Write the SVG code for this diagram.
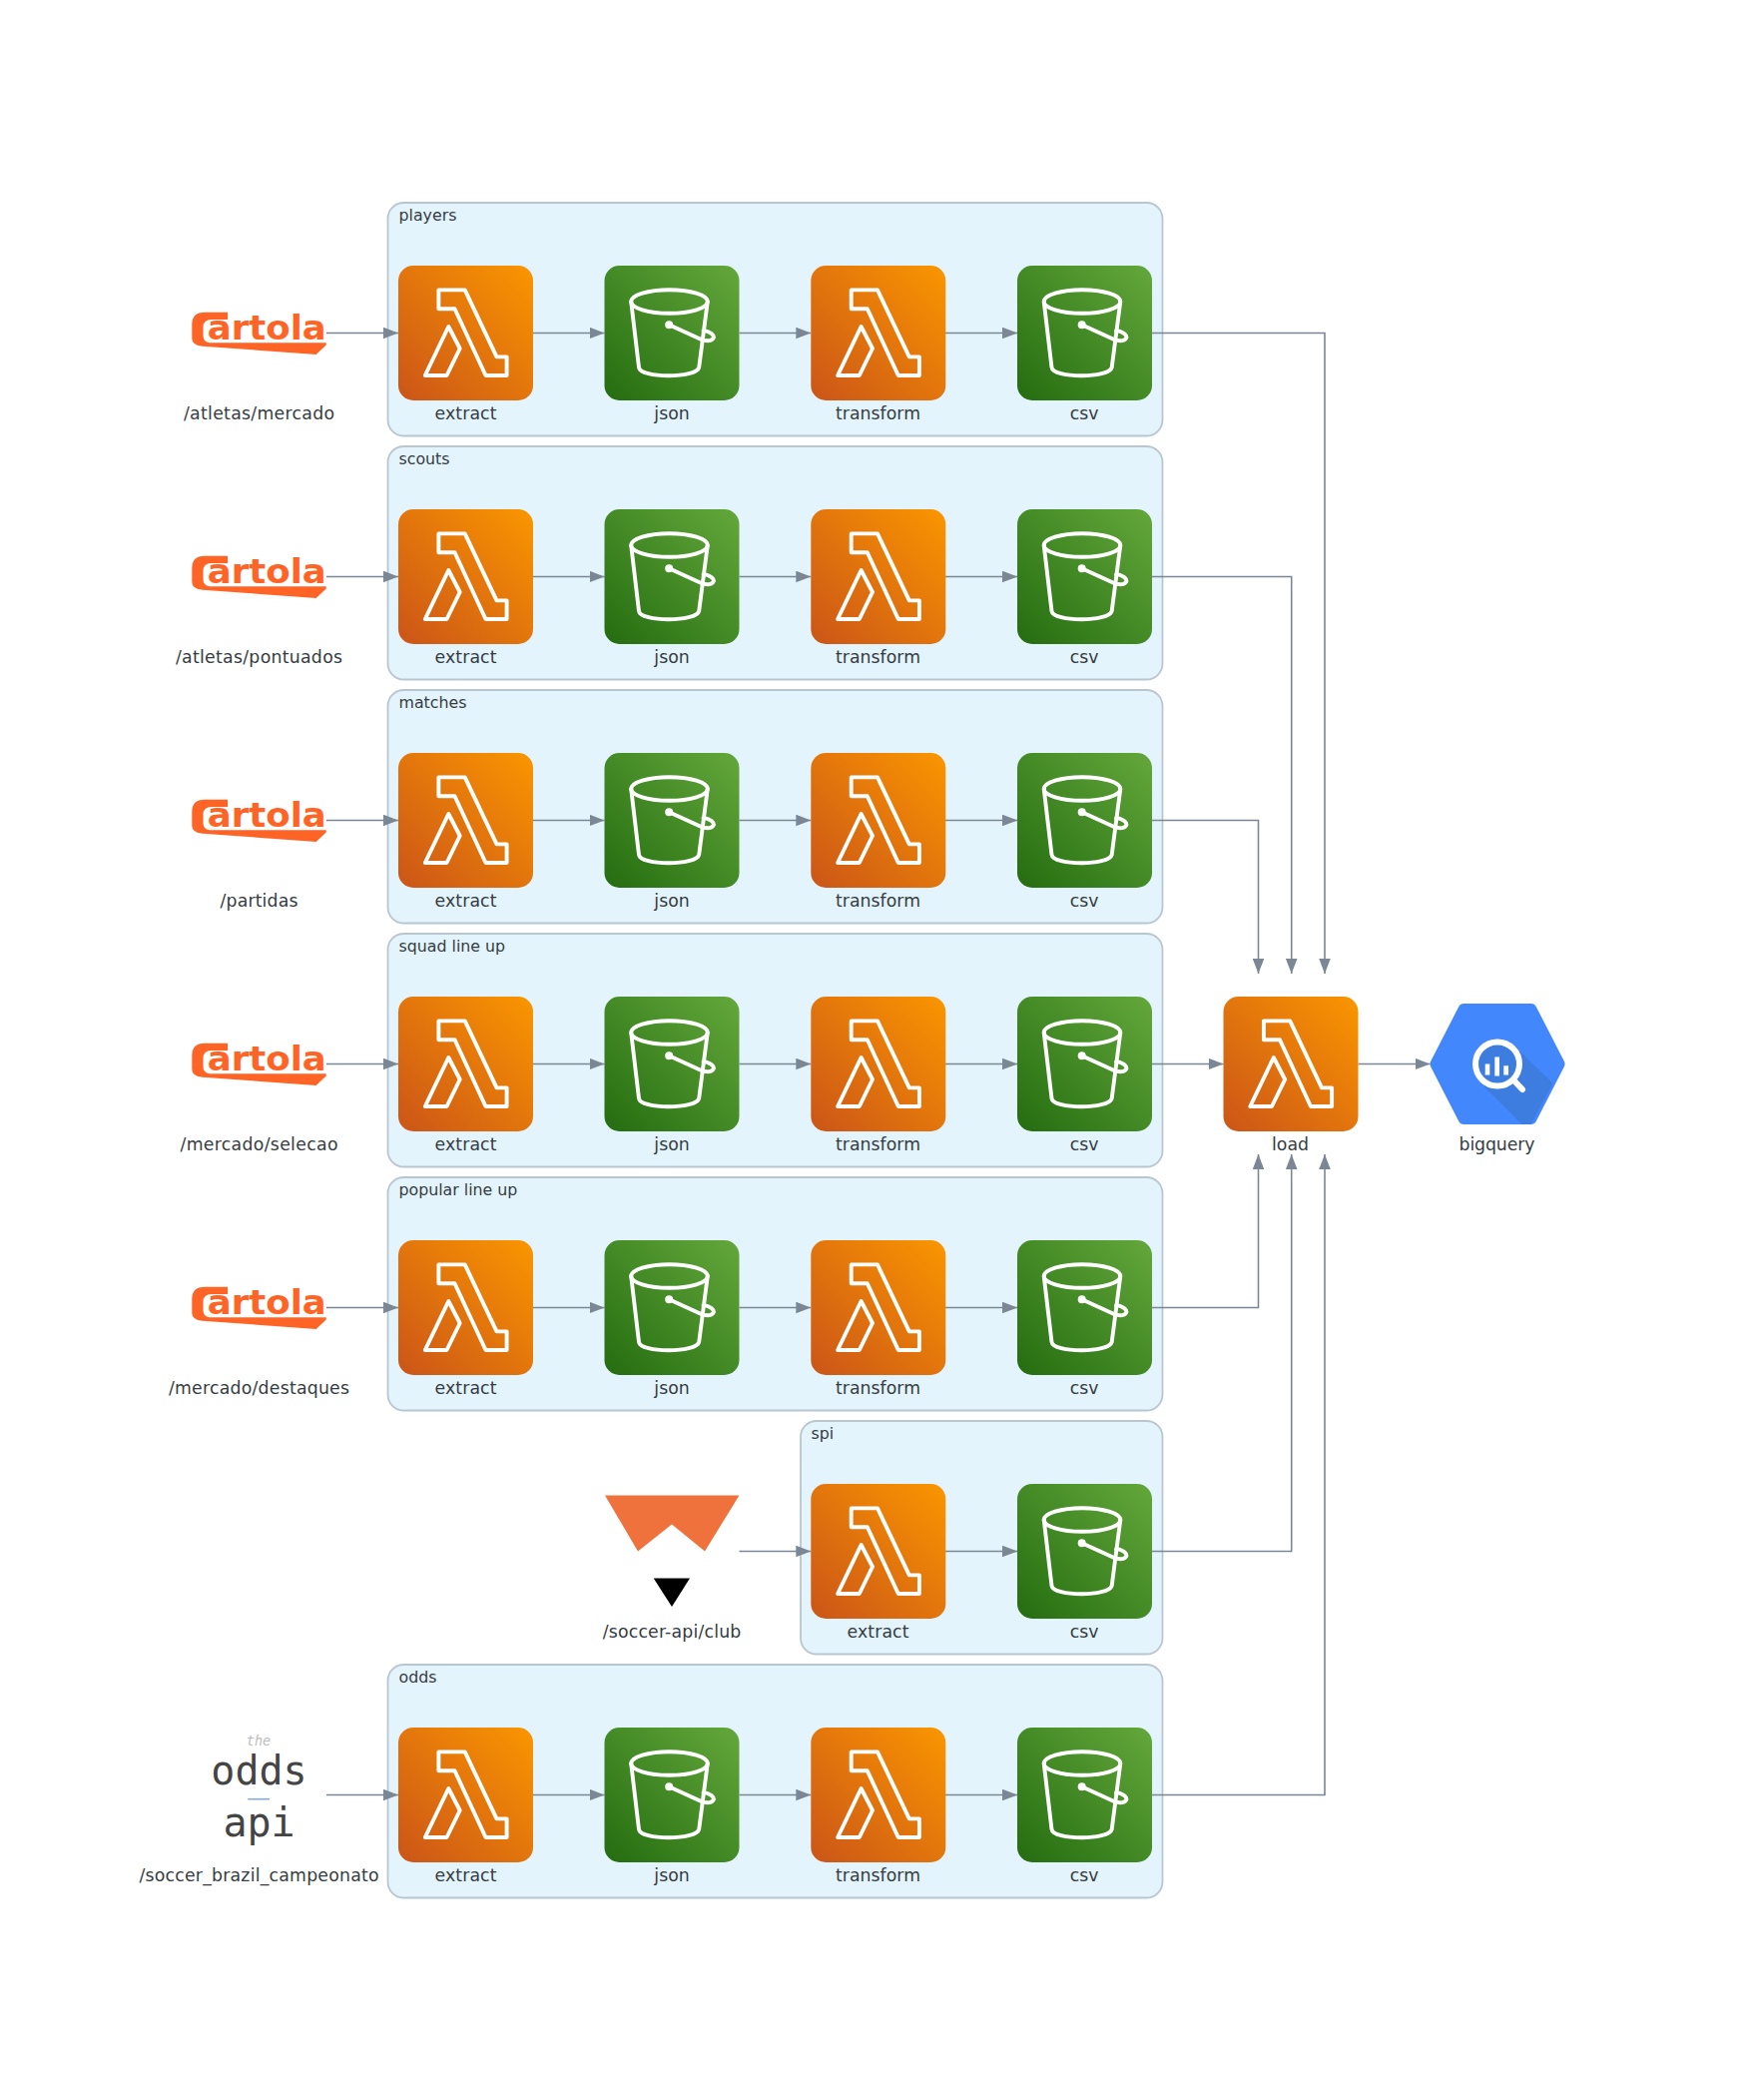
<svg xmlns="http://www.w3.org/2000/svg" width="1759" height="2103" viewBox="0 0 1759 2103">
<style>
text{font-family:"DejaVu Sans",sans-serif;fill:#353c42}
.l{font-size:17.3px;text-anchor:middle}
.c{font-size:15.8px}
.box{fill:#e3f4fc;stroke:#bac6cf;stroke-width:1.8}
.e{fill:none;stroke:#7b8794;stroke-width:1.6;marker-end:url(#arr)}
.w{fill:none;stroke:#fff;stroke-width:3.9;stroke-linejoin:round;stroke-linecap:round}
.ct{font-weight:700;font-size:34px;fill:#ff6427}
.m{font-family:"DejaVu Sans Mono",monospace;fill:#444}
</style>
<defs>
<marker id="arr" markerUnits="userSpaceOnUse" markerWidth="16" markerHeight="12" refX="15" refY="6" orient="auto"><path d="M0 0.200L15 6L0 11.800z" fill="#7b8794"/></marker>
<linearGradient id="go" x1="0" y1="1" x2="1" y2="0"><stop offset="0" stop-color="#cb5518"/><stop offset="1" stop-color="#fa9600"/></linearGradient>
<linearGradient id="gg" x1="0" y1="1" x2="1" y2="0"><stop offset="0" stop-color="#246c10"/><stop offset="1" stop-color="#64a83b"/></linearGradient>
<g id="lambda"><rect width="135" height="135" rx="15" fill="url(#go)"/><path class="w" d="M40.400 24.400H66.700L98.500 91.400H108.600V110H87.500L56.500 43.300H40.400Z"/><path class="w" d="M50.300 61L61.700 83L48.500 110H26.800Z"/></g>
<g id="bucket"><rect width="135" height="135" rx="15" fill="url(#gg)"/><ellipse class="w" cx="65" cy="36" rx="38.300" ry="11.800"/><path class="w" d="M26.700 36L34.500 102C36 113 92 113 94.700 102L103.300 36"/><circle cx="64.700" cy="59.300" r="4" fill="#fff"/><path class="w" d="M64.700 59.300L97 74C105 77 111 74 109 70C107 67 102 65 99 65.500"/></g>
<g id="cartola"><path fill="#ff6427" d="M35.800 0H12.700Q0 0 0 12.300V26.300Q0 33.300 10.700 34L124.400 42.300L134.400 32.800V30.600H17.700Q11.200 29.800 11.200 23.300V15.300Q11.200 7.300 19.700 7.300L35.800 7.300Z"/><text class="ct" x="15.500" y="27" textLength="119" lengthAdjust="spacingAndGlyphs">artola</text></g>
</defs>
<rect width="1759" height="2103" fill="#fff"/>

<g id="cluster-players"><rect class="box" x="388.500" y="203" width="776" height="233.500" rx="16"/><text class="c" x="399.500" y="220.700">players</text></g>
<g id="cluster-scouts"><rect class="box" x="388.500" y="447" width="776" height="233.500" rx="16"/><text class="c" x="399.500" y="464.700">scouts</text></g>
<g id="cluster-matches"><rect class="box" x="388.500" y="691" width="776" height="233.500" rx="16"/><text class="c" x="399.500" y="708.700">matches</text></g>
<g id="cluster-squad"><rect class="box" x="388.500" y="935" width="776" height="233.500" rx="16"/><text class="c" x="399.500" y="952.700">squad line up</text></g>
<g id="cluster-popular"><rect class="box" x="388.500" y="1179" width="776" height="233.500" rx="16"/><text class="c" x="399.500" y="1196.700">popular line up</text></g>
<g id="cluster-spi"><rect class="box" x="802" y="1423" width="362.500" height="233.500" rx="16"/><text class="c" x="812.500" y="1440.700">spi</text></g>
<g id="cluster-odds"><rect class="box" x="388.500" y="1667" width="776" height="233.500" rx="16"/><text class="c" x="399.500" y="1684.700">odds</text></g>

<g id="connectors">
<path class="e" d="M327 333.500H399"/><path class="e" d="M534 333.500H605.500"/><path class="e" d="M740.500 333.500H812.300"/><path class="e" d="M947 333.500H1019"/>
<path class="e" d="M327 577.500H399"/><path class="e" d="M534 577.500H605.500"/><path class="e" d="M740.500 577.500H812.300"/><path class="e" d="M947 577.500H1019"/>
<path class="e" d="M327 821.500H399"/><path class="e" d="M534 821.500H605.500"/><path class="e" d="M740.500 821.500H812.300"/><path class="e" d="M947 821.500H1019"/>
<path class="e" d="M327 1065.500H399"/><path class="e" d="M534 1065.500H605.500"/><path class="e" d="M740.500 1065.500H812.300"/><path class="e" d="M947 1065.500H1019"/>
<path class="e" d="M327 1309.500H399"/><path class="e" d="M534 1309.500H605.500"/><path class="e" d="M740.500 1309.500H812.300"/><path class="e" d="M947 1309.500H1019"/>
<path class="e" d="M740.500 1553.500H812.300"/><path class="e" d="M947 1553.500H1019"/>
<path class="e" d="M327 1797.500H399"/><path class="e" d="M534 1797.500H605.500"/><path class="e" d="M740.500 1797.500H812.300"/><path class="e" d="M947 1797.500H1019"/>
<path class="e" d="M1154 333.500H1327V975"/>
<path class="e" d="M1154 577.500H1293.700V975"/>
<path class="e" d="M1154 821.500H1260.500V975"/>
<path class="e" d="M1154 1065.500H1225.500"/>
<path class="e" d="M1154 1309.500H1260.500V1156"/>
<path class="e" d="M1154 1553.500H1293.700V1156"/>
<path class="e" d="M1154 1797.500H1327V1156"/>
<path class="e" d="M1360.500 1065.500H1432.500"/>
</g>

<g id="src-mercado"><use href="#cartola" x="192.300" y="312.700"/><text class="l" x="259.500" y="420" textLength="151">/atletas/mercado</text></g>
<g id="src-pontuados"><use href="#cartola" x="192.300" y="556.700"/><text class="l" x="259.500" y="664" textLength="167">/atletas/pontuados</text></g>
<g id="src-partidas"><use href="#cartola" x="192.300" y="800.700"/><text class="l" x="259.500" y="908" textLength="78">/partidas</text></g>
<g id="src-selecao"><use href="#cartola" x="192.300" y="1044.700"/><text class="l" x="259.500" y="1152" textLength="158">/mercado/selecao</text></g>
<g id="src-destaques"><use href="#cartola" x="192.300" y="1288.700"/><text class="l" x="259.500" y="1396" textLength="181">/mercado/destaques</text></g>
<g id="src-club"><path fill="#ef723d" d="M606 1497.500H740.500L706 1553.500L673 1526.500L639 1553.500Z"/><path fill="#000" d="M654.700 1580.500H691L673 1609Z"/><text class="l" x="673" y="1640" textLength="138.500">/soccer-api/club</text></g>
<g id="src-odds"><text class="m" x="259" y="1748" text-anchor="middle" font-size="13.500" font-style="italic" style="fill:#bdbdbd">the</text><text class="m" x="259.500" y="1787" text-anchor="middle" font-size="40">odds</text><path d="M248.300 1801.700H270" stroke="#7aa7e8" stroke-width="1.500"/><text class="m" x="259.500" y="1839" text-anchor="middle" font-size="40">api</text><text class="l" x="259.500" y="1884" textLength="240">/soccer_brazil_campeonato</text></g>

<g id="players-extract"><use href="#lambda" x="399" y="266"/><text class="l" x="466.500" y="420" textLength="62">extract</text></g>
<g id="players-json"><use href="#bucket" x="605.500" y="266"/><text class="l" x="673" y="420">json</text></g>
<g id="players-transform"><use href="#lambda" x="812.300" y="266"/><text class="l" x="879.500" y="420" textLength="85">transform</text></g>
<g id="players-csv"><use href="#bucket" x="1019" y="266"/><text class="l" x="1086" y="420">csv</text></g>

<g id="scouts-extract"><use href="#lambda" x="399" y="510"/><text class="l" x="466.500" y="664" textLength="62">extract</text></g>
<g id="scouts-json"><use href="#bucket" x="605.500" y="510"/><text class="l" x="673" y="664">json</text></g>
<g id="scouts-transform"><use href="#lambda" x="812.300" y="510"/><text class="l" x="879.500" y="664" textLength="85">transform</text></g>
<g id="scouts-csv"><use href="#bucket" x="1019" y="510"/><text class="l" x="1086" y="664">csv</text></g>

<g id="matches-extract"><use href="#lambda" x="399" y="754"/><text class="l" x="466.500" y="908" textLength="62">extract</text></g>
<g id="matches-json"><use href="#bucket" x="605.500" y="754"/><text class="l" x="673" y="908">json</text></g>
<g id="matches-transform"><use href="#lambda" x="812.300" y="754"/><text class="l" x="879.500" y="908" textLength="85">transform</text></g>
<g id="matches-csv"><use href="#bucket" x="1019" y="754"/><text class="l" x="1086" y="908">csv</text></g>

<g id="squad-extract"><use href="#lambda" x="399" y="998"/><text class="l" x="466.500" y="1152" textLength="62">extract</text></g>
<g id="squad-json"><use href="#bucket" x="605.500" y="998"/><text class="l" x="673" y="1152">json</text></g>
<g id="squad-transform"><use href="#lambda" x="812.300" y="998"/><text class="l" x="879.500" y="1152" textLength="85">transform</text></g>
<g id="squad-csv"><use href="#bucket" x="1019" y="998"/><text class="l" x="1086" y="1152">csv</text></g>

<g id="popular-extract"><use href="#lambda" x="399" y="1242"/><text class="l" x="466.500" y="1396" textLength="62">extract</text></g>
<g id="popular-json"><use href="#bucket" x="605.500" y="1242"/><text class="l" x="673" y="1396">json</text></g>
<g id="popular-transform"><use href="#lambda" x="812.300" y="1242"/><text class="l" x="879.500" y="1396" textLength="85">transform</text></g>
<g id="popular-csv"><use href="#bucket" x="1019" y="1242"/><text class="l" x="1086" y="1396">csv</text></g>

<g id="spi-extract"><use href="#lambda" x="812.300" y="1486"/><text class="l" x="879.500" y="1640" textLength="62">extract</text></g>
<g id="spi-csv"><use href="#bucket" x="1019" y="1486"/><text class="l" x="1086" y="1640">csv</text></g>

<g id="odds-extract"><use href="#lambda" x="399" y="1730"/><text class="l" x="466.500" y="1884" textLength="62">extract</text></g>
<g id="odds-json"><use href="#bucket" x="605.500" y="1730"/><text class="l" x="673" y="1884">json</text></g>
<g id="odds-transform"><use href="#lambda" x="812.300" y="1730"/><text class="l" x="879.500" y="1884" textLength="85">transform</text></g>
<g id="odds-csv"><use href="#bucket" x="1019" y="1730"/><text class="l" x="1086" y="1884">csv</text></g>

<g id="load"><use href="#lambda" x="1225.500" y="998"/><text class="l" x="1292.500" y="1152" textLength="37">load</text></g>
<g id="bigquery">
<path fill="#4387fd" stroke="#4387fd" stroke-width="12" stroke-linejoin="round" d="M1438.500 1065.500L1466.500 1011H1533.500L1561.500 1065.500L1533.500 1120H1466.500Z"/>
<path fill="#3e7de0" d="M1516.500 1047L1555.500 1085L1533.500 1126H1524.500L1486.500 1088Z"/>
<circle cx="1500" cy="1065.500" r="22" fill="#3e7de0" stroke="#fff" stroke-width="6"/>
<path fill="#fff" d="M1487.700 1065.500H1492.300V1076.500H1487.700ZM1497.300 1058.500H1502V1077.500H1497.300ZM1506.300 1067.300H1511V1076.500H1506.300Z"/>
<path d="M1516.500 1082L1525 1091" stroke="#fff" stroke-width="6" stroke-linecap="round"/>
<text class="l" x="1499.500" y="1152" textLength="76">bigquery</text>
</g>
</svg>
